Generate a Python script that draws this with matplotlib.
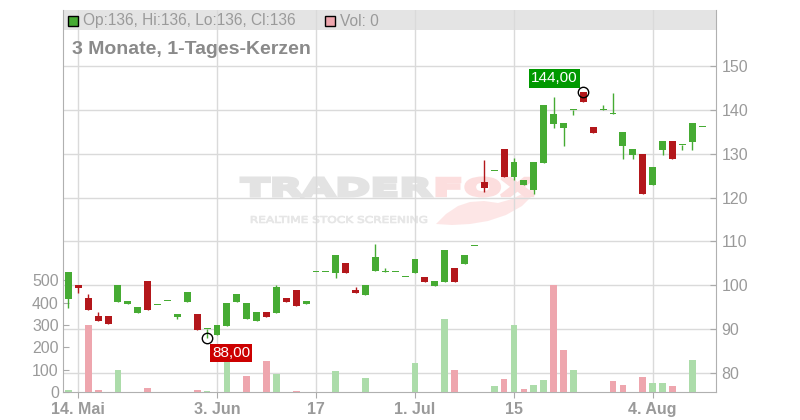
import numpy as np
import pandas as pd
import matplotlib
matplotlib.use('Agg')
import matplotlib.pyplot as plt
from matplotlib.patches import Rectangle, PathPatch, Polygon
from matplotlib.textpath import TextPath
from matplotlib.font_manager import FontProperties
from matplotlib.transforms import Affine2D

plt.rcParams['font.family'] = ['Liberation Sans', 'DejaVu Sans']

# daily candles, 13 May - 11 Aug
dates = pd.bdate_range('2025-05-13', '2025-08-11')
opens = [96.9, 100.1, 97.1, 93.0, 93.0, 96.2, 95.7, 93.7, 101.0, 95.5,
         96.4, 92.8, 96.2, 93.45, 90.0, 88.7, 90.7, 96.2, 92.3, 91.9,
         93.9, 93.7, 97.1, 98.9, 95.8, 103.0, 103.0, 102.8, 105.1, 98.9,
         97.85, 103.3, 103.0, 103.0, 101.8, 102.8, 101.9, 99.8, 100.7, 103.9,
         104.9, 109.0, 123.5, 126.0, 131.1, 124.7, 122.9, 121.7, 127.9, 136.8,
         135.9, 140.0, 144.0, 136.1, 139.9, 139.0, 131.75, 129.7, 129.9, 122.9,
         130.8, 132.9, 131.9, 132.7, 136.0]
highs = [103.0, 100.1, 98.0, 93.9, 93.0, 100.1, 96.4, 95.0, 101.0, 95.5,
         96.4, 93.45, 98.5, 93.45, 90.0, 91.0, 96.0, 98.0, 96.0, 93.9,
         93.9, 100.1, 97.1, 98.9, 96.4, 103.0, 103.0, 106.9, 105.1, 99.7,
         100.06, 109.4, 104.0, 103.0, 101.8, 106.0, 101.9, 101.0, 108.0, 103.9,
         106.9, 109.0, 128.6, 126.0, 131.1, 129.0, 124.0, 128.1, 141.1, 142.9,
         137.0, 140.0, 144.0, 136.1, 141.1, 143.9, 134.95, 131.1, 129.9, 127.0,
         132.9, 132.9, 131.9, 137.0, 136.0]
lows = [94.9, 98.3, 94.4, 91.9, 91.2, 96.2, 95.7, 93.7, 94.4, 95.5,
        96.4, 92.3, 96.2, 89.8, 88.0, 88.7, 90.7, 96.2, 92.3, 91.9,
        92.8, 93.7, 96.2, 95.3, 95.8, 103.0, 103.0, 101.7, 102.8, 98.3,
        97.85, 103.3, 103.0, 103.0, 101.8, 102.8, 100.7, 99.8, 100.7, 100.7,
        104.9, 109.0, 121.3, 126.0, 124.7, 124.0, 122.9, 120.8, 127.9, 135.9,
        131.75, 138.8, 141.8, 134.7, 139.9, 139.0, 128.8, 128.8, 120.8, 122.9,
        129.7, 128.8, 130.8, 130.8, 136.0]
closes = [103.0, 99.4, 94.4, 91.9, 91.2, 100.1, 96.4, 95.0, 94.4, 95.5,
          96.4, 93.45, 98.5, 89.8, 90.0, 91.0, 96.0, 98.0, 96.0, 93.9,
          92.8, 99.6, 96.2, 95.3, 96.4, 103.0, 103.0, 106.9, 102.8, 98.3,
          100.06, 106.4, 103.0, 103.0, 101.8, 106.0, 100.7, 101.0, 108.0, 100.7,
          106.9, 109.0, 122.25, 126.0, 124.7, 128.1, 124.0, 128.1, 141.1, 139.05,
          137.0, 140.0, 141.8, 134.7, 139.9, 139.0, 134.95, 131.1, 120.8, 127.0,
          132.9, 128.8, 131.9, 137.0, 136.0]
volumes = [7, 0, 302, 10, 0, 100, 0, 0, 20, 0,
           0, 0, 0, 10, 5, 0, 140, 0, 70, 0,
           140, 79, 0, 5, 0, 0, 0, 95, 0, 0,
           64, 0, 0, 0, 0, 128, 0, 0, 329, 100,
           0, 0, 0, 28, 60, 302, 15, 33, 55, 481,
           190, 100, 0, 0, 0, 51, 33, 0, 69, 42,
           42, 28, 0, 145, 0]

tick_dates = ['2025-05-14', '2025-06-03', '2025-06-17', '2025-07-01', '2025-07-15', '2025-08-04']
tick_labels = ['14. Mai', '3. Jun', '17', '1. Jul', '15', '4. Aug']
price_ticks = [80, 90, 100, 110, 120, 130, 140, 150]
vol_ticks = [0, 100, 200, 300, 400, 500]

GREEN = '#46ab33'
RED = '#b3171b'
VGREEN = '#acdcaa'
VPINK = '#eea6ae'
GRAY = '#9a9a9a'

o = np.array(opens); h = np.array(highs); l = np.array(lows); c = np.array(closes)
v = np.array(volumes)
x = np.arange(len(dates))

W, H = 800, 420
fig = plt.figure(figsize=(8, 4.2), dpi=100)
rect = [63 / W, 1 - 392 / H, (716 - 63) / W, (392 - 10) / H]
ax = fig.add_axes(rect)
axv = fig.add_axes(rect, sharex=ax)
axc = fig.add_axes(rect, sharex=ax)

xlim = (-0.55, 65.4)
ax.set_xlim(*xlim)
ax.set_ylim(75.67, 162.77)
axc.set_ylim(75.67, 162.77)
axv.set_ylim(0, 1711)

# base axes: grid, spines, price ticks on right, dates
ax.set_axisbelow(True)
ax.set_yticks(price_ticks)
ax.yaxis.tick_right()
tick_idx = [dates.get_loc(pd.Timestamp(d)) for d in tick_dates]
ax.set_xticks(tick_idx)
ax.set_xticklabels(tick_labels, fontweight='bold')
ax.grid(True, color='#dadada', lw=1)
ax.tick_params(axis='y', direction='in', length=4, color='#aaaaaa', labelcolor=GRAY,
               labelsize=11.5, pad=4)
ax.tick_params(axis='x', direction='out', length=4, color='#aaaaaa', labelcolor=GRAY,
               labelsize=11.5, pad=3)
for s in ['left', 'right', 'bottom']:
    ax.spines[s].set_color('#b0b0b0')
ax.spines['top'].set_visible(False)

# header bar
ax.add_patch(Rectangle((0, 1 - 20 / 382), 1, 20 / 382, transform=ax.transAxes,
                       color='#e4e4e4', zorder=0.2, lw=0))


# watermark
def stamp(s, x0, y0, x1, y1, color, weight='bold', lw=0.0):
    tp = TextPath((0, 0), s, size=10, prop=FontProperties(family='DejaVu Sans', weight=weight))
    e = tp.get_extents()
    tr = Affine2D().translate(-e.x0, -e.y0).scale((x1 - x0) / e.width / W,
                                                 (y1 - y0) / e.height / H).translate(x0 / W, 1 - y1 / H)
    ax.add_patch(PathPatch(tp, transform=tr + fig.transFigure, fc=color, ec=color,
                           lw=lw, zorder=0.3))


def px(pts):
    return [(a / W, 1 - b / H) for a, b in pts]


# fox tail swoosh
tail = [(436, 224), (446, 214), (458, 206), (470, 202), (484, 201), (498, 203),
        (512, 199), (524, 193), (536, 186), (532, 196), (522, 206), (506, 215),
        (488, 221), (470, 224), (452, 225)]
ax.add_patch(Polygon(px(tail), closed=True, transform=fig.transFigure,
                     fc='#fde6e6', ec='none', zorder=0.25))
stamp('TRADER', 241, 178, 431, 196, '#e3e3e3', lw=2.2)
stamp('FOX', 437, 178, 534, 196, '#fcdede', lw=2.2)
stamp('REALTIME STOCK SCREENING', 251, 216, 427, 223, '#e6e6e6', weight='normal', lw=0.6)

# volume axes
axv.patch.set_visible(False)
for s in axv.spines.values():
    s.set_visible(False)
axv.set_yticks(vol_ticks)
axv.tick_params(axis='y', direction='in', length=4, color='#aaaaaa', labelcolor=GRAY,
                labelsize=11.5, pad=3)
axv.tick_params(axis='x', bottom=False, labelbottom=False)
prev = np.concatenate([[c[0]], c[:-1]])
vcol = [VGREEN if cc >= pc else VPINK for cc, pc in zip(c, prev)]
axv.bar(x, v, width=0.68, color=vcol, lw=0)

# candles
axc.axis('off')
up = c >= o
ccol = [GREEN if u else RED for u in up]
axc.vlines(x, l, h, colors=ccol, lw=1)
body = np.maximum(np.abs(c - o), 0.22)
axc.bar(x, body, bottom=np.minimum(o, c), width=0.7, color=ccol, lw=0)

# max / min markers
imax = int(np.argmax(h))
imin = int(np.argmin(l))
for i, val, fc, off in [(imax, h[imax], '#009900', (-29, 14)), (imin, l[imin], '#cc0000', (24, -15))]:
    axc.plot(i, val, 'o', mfc='none', mec='black', ms=7.5, mew=1, zorder=5)
    axc.annotate(f'{val:.2f}'.replace('.', ','), xy=(i, val), xytext=off,
                 textcoords='offset pixels', ha='center', va='center', color='white',
                 fontsize=11, zorder=6,
                 bbox=dict(boxstyle='square,pad=0.15', fc=fc, ec='none'))
axc.set_xlim(*xlim)

# header legend + title
fig.add_artist(Rectangle((68 / W, 1 - 26 / H), 10 / W, 10 / H, transform=fig.transFigure,
                         fc=GREEN, ec='black', lw=1))
fig.text(83 / W, 1 - 21 / H,
         f'Op:{o[-1]:.0f}, Hi:{h[-1]:.0f}, Lo:{l[-1]:.0f}, Cl:{c[-1]:.0f}',
         va='center', ha='left', color=GRAY, fontsize=11.2)
fig.add_artist(Rectangle((325 / W, 1 - 26 / H), 10 / W, 10 / H, transform=fig.transFigure,
                         fc=VPINK, ec='black', lw=1))
fig.text(340 / W, 1 - 21 / H, f'Vol: {v[-1]}', va='center', ha='left', color=GRAY, fontsize=11.2)
fig.text(72 / W, 1 - 54 / H, '3 Monate, 1-Tages-Kerzen', va='baseline', ha='left',
         color='#8a8a8a', fontsize=14, fontweight='bold')

fig.savefig('out.png', dpi=100)
